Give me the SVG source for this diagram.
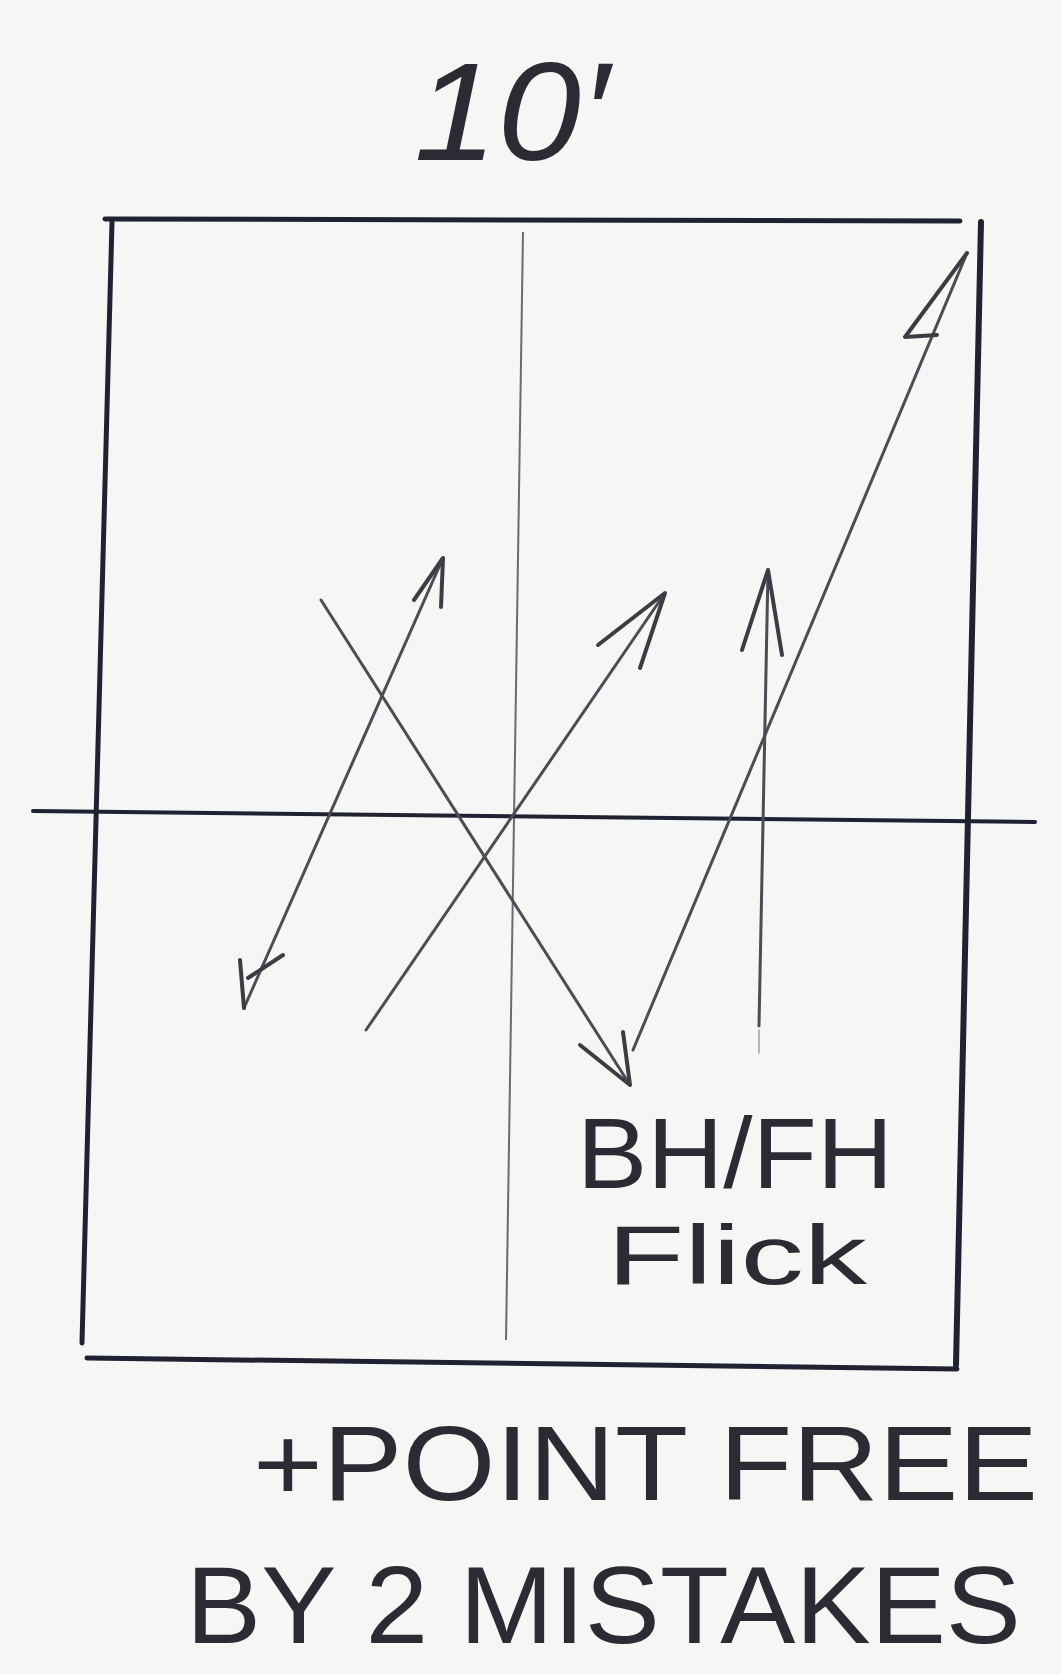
<svg xmlns="http://www.w3.org/2000/svg" width="1061" height="1674" viewBox="0 0 1061 1674">
<style>
.box{stroke:#1f2233;stroke-width:5;fill:none;stroke-linecap:round}
.axis{stroke:#1f2233;stroke-width:4;fill:none;stroke-linecap:round}
.mid{stroke:#6a6a72;stroke-width:2;fill:none}
.arr{stroke:#4c4c55;stroke-width:3;fill:none;stroke-linecap:round;stroke-linejoin:round}
.head{stroke:#3c3c45;stroke-width:4;fill:none;stroke-linecap:round;stroke-linejoin:round}
.hand{font-family:"Liberation Sans","DejaVu Sans",sans-serif;fill:#2b2b33}
</style>
<rect width="1061" height="1674" fill="#f6f6f4"/>
<g id="court">
  <path class="box" d="M105 219 L960 221"/>
  <path class="box" d="M112 222 L82 1343"/>
  <path class="box" d="M87 1358 L957 1369"/>
  <path class="box" d="M981 222 L956 1365" style="stroke-width:6"/>
  <path class="mid" d="M523 232 L506 1340"/>
  <path class="axis" d="M33 811 L1035 822"/>
</g>
<g id="connectors">
  <g id="arrow-a">
    <path class="arr" d="M244 1008 L443 558"/>
    <path class="head" d="M414 600 L443 558 L441 607"/>
    <path class="head" d="M240 960 L244 1008 M248 978 L283 955"/>
  </g>
  <g id="arrow-b">
    <path class="arr" d="M321 600 L630 1085"/>
    <path class="head" d="M580 1045 L630 1085 L623 1032"/>
  </g>
  <g id="arrow-c">
    <path class="arr" d="M366 1030 L665 593"/>
    <path class="head" d="M598 645 L665 593 L640 668"/>
  </g>
  <g id="arrow-d">
    <path class="arr" d="M759 1026 L768 570"/>
    <path class="arr" d="M759 1030 L759 1053" style="stroke-width:1.5;opacity:0.5"/>
    <path class="head" d="M742 650 L768 570 L782 655"/>
  </g>
  <g id="arrow-e">
    <path class="arr" d="M633 1050 L967 253"/>
    <path class="head" d="M967 253 L905 337 L937 335"/>
  </g>
</g>
<g id="labels">
  <text id="title" class="hand" x="414" y="160" font-size="140" font-style="italic" textLength="195" lengthAdjust="spacingAndGlyphs">10′</text>
  <text id="label-bhfh" class="hand" x="577" y="1188" font-size="100" textLength="316" lengthAdjust="spacingAndGlyphs">BH/FH</text>
  <text id="label-flick" class="hand" x="607" y="1284" font-size="84" textLength="260" lengthAdjust="spacingAndGlyphs">Flick</text>
  <text id="note-1" class="hand" x="253" y="1500" font-size="105" textLength="785" lengthAdjust="spacingAndGlyphs">+POINT FREE</text>
  <text id="note-2" class="hand" x="186" y="1643" font-size="110" textLength="835" lengthAdjust="spacingAndGlyphs">BY 2 MISTAKES</text>
</g>
</svg>
